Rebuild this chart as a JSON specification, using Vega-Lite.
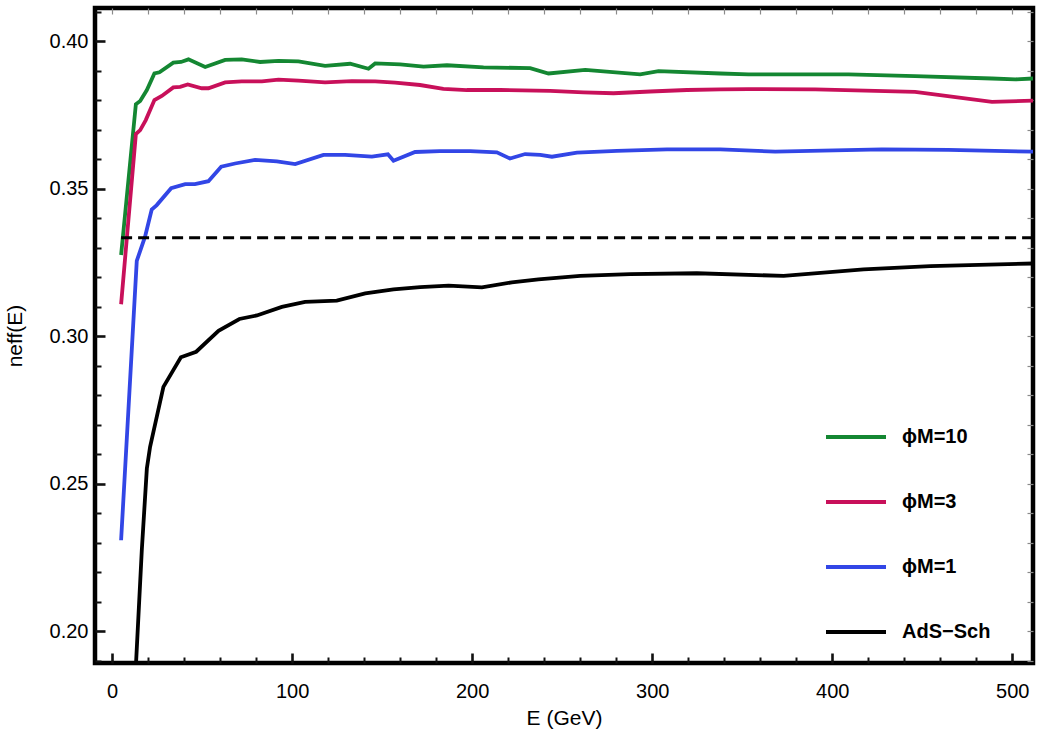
{
  "$schema": "https://vega.github.io/schema/vega-lite/v6.json",
  "width": 938,
  "height": 655,
  "autosize": {"type": "none"},
  "padding": {"left": 95, "top": 8, "right": 9, "bottom": 77},
  "background": "white",
  "config": {
    "view": {"stroke": "black", "strokeWidth": 4.5},
    "font": "Liberation Sans",
    "axis": {
      "domain": false,
      "grid": false,
      "labelColor": "black",
      "labelFont": "Liberation Sans",
      "labelFontSize": 20,
      "titleFont": "Liberation Sans",
      "titleFontSize": 21,
      "titleFontWeight": "normal",
      "titleColor": "black"
    }
  },
  "datasets": {
    "curves": [
      {"series": "ϕM=10", "E": 5, "n": 0.3275},
      {"series": "ϕM=10", "E": 13.2, "n": 0.3786},
      {"series": "ϕM=10", "E": 15.6, "n": 0.3797},
      {"series": "ϕM=10", "E": 19.3, "n": 0.3834},
      {"series": "ϕM=10", "E": 23.5, "n": 0.389},
      {"series": "ϕM=10", "E": 26.3, "n": 0.3894},
      {"series": "ϕM=10", "E": 34, "n": 0.3927},
      {"series": "ϕM=10", "E": 38.3, "n": 0.3929},
      {"series": "ϕM=10", "E": 42.4, "n": 0.3938},
      {"series": "ϕM=10", "E": 51.7, "n": 0.3912},
      {"series": "ϕM=10", "E": 62.8, "n": 0.3936},
      {"series": "ϕM=10", "E": 72, "n": 0.3938},
      {"series": "ϕM=10", "E": 82.2, "n": 0.3929},
      {"series": "ϕM=10", "E": 92.4, "n": 0.3933},
      {"series": "ϕM=10", "E": 103.5, "n": 0.3931},
      {"series": "ϕM=10", "E": 118.3, "n": 0.3916},
      {"series": "ϕM=10", "E": 132.2, "n": 0.3923},
      {"series": "ϕM=10", "E": 142.4, "n": 0.3906},
      {"series": "ϕM=10", "E": 146.1, "n": 0.3924},
      {"series": "ϕM=10", "E": 160, "n": 0.3921},
      {"series": "ϕM=10", "E": 173, "n": 0.3913},
      {"series": "ϕM=10", "E": 186, "n": 0.3918},
      {"series": "ϕM=10", "E": 206.3, "n": 0.3911},
      {"series": "ϕM=10", "E": 232.2, "n": 0.3908},
      {"series": "ϕM=10", "E": 242.4, "n": 0.389},
      {"series": "ϕM=10", "E": 262.8, "n": 0.3902},
      {"series": "ϕM=10", "E": 293.3, "n": 0.3887},
      {"series": "ϕM=10", "E": 303.5, "n": 0.3898},
      {"series": "ϕM=10", "E": 337.8, "n": 0.389},
      {"series": "ϕM=10", "E": 353.5, "n": 0.3887},
      {"series": "ϕM=10", "E": 409, "n": 0.3887},
      {"series": "ϕM=10", "E": 446, "n": 0.3881},
      {"series": "ϕM=10", "E": 488.7, "n": 0.3873},
      {"series": "ϕM=10", "E": 501.7, "n": 0.387},
      {"series": "ϕM=10", "E": 511.5, "n": 0.3873},

      {"series": "ϕM=3", "E": 5, "n": 0.3108},
      {"series": "ϕM=3", "E": 13.2, "n": 0.3685},
      {"series": "ϕM=3", "E": 15.6, "n": 0.3698},
      {"series": "ϕM=3", "E": 18.7, "n": 0.3732},
      {"series": "ϕM=3", "E": 23.5, "n": 0.38},
      {"series": "ϕM=3", "E": 27.6, "n": 0.3814},
      {"series": "ϕM=3", "E": 34, "n": 0.3843},
      {"series": "ϕM=3", "E": 37.8, "n": 0.3845},
      {"series": "ϕM=3", "E": 42, "n": 0.3853},
      {"series": "ϕM=3", "E": 49.8, "n": 0.384},
      {"series": "ϕM=3", "E": 53.5, "n": 0.384},
      {"series": "ϕM=3", "E": 62.8, "n": 0.386},
      {"series": "ϕM=3", "E": 72, "n": 0.3863},
      {"series": "ϕM=3", "E": 83.2, "n": 0.3863},
      {"series": "ϕM=3", "E": 92.4, "n": 0.3869},
      {"series": "ϕM=3", "E": 103.5, "n": 0.3866},
      {"series": "ϕM=3", "E": 118.3, "n": 0.386},
      {"series": "ϕM=3", "E": 133.2, "n": 0.3864},
      {"series": "ϕM=3", "E": 146.1, "n": 0.3863},
      {"series": "ϕM=3", "E": 157.2, "n": 0.3859},
      {"series": "ϕM=3", "E": 171, "n": 0.3851},
      {"series": "ϕM=3", "E": 184, "n": 0.3838},
      {"series": "ϕM=3", "E": 197, "n": 0.3834},
      {"series": "ϕM=3", "E": 215.6, "n": 0.3834},
      {"series": "ϕM=3", "E": 243.3, "n": 0.3831},
      {"series": "ϕM=3", "E": 261.8, "n": 0.3826},
      {"series": "ϕM=3", "E": 278.5, "n": 0.3823},
      {"series": "ϕM=3", "E": 298.9, "n": 0.3829},
      {"series": "ϕM=3", "E": 319.3, "n": 0.3834},
      {"series": "ϕM=3", "E": 337.8, "n": 0.3836},
      {"series": "ϕM=3", "E": 353.5, "n": 0.3837},
      {"series": "ϕM=3", "E": 390.6, "n": 0.3836},
      {"series": "ϕM=3", "E": 446, "n": 0.3828},
      {"series": "ϕM=3", "E": 488.7, "n": 0.3794},
      {"series": "ϕM=3", "E": 511.5, "n": 0.3798},

      {"series": "ϕM=1", "E": 5, "n": 0.2308},
      {"series": "ϕM=1", "E": 13.7, "n": 0.3255},
      {"series": "ϕM=1", "E": 18.3, "n": 0.3337},
      {"series": "ϕM=1", "E": 22, "n": 0.3429},
      {"series": "ϕM=1", "E": 24.8, "n": 0.3444},
      {"series": "ϕM=1", "E": 32.8, "n": 0.3501},
      {"series": "ϕM=1", "E": 40.6, "n": 0.3515},
      {"series": "ϕM=1", "E": 46, "n": 0.3515},
      {"series": "ϕM=1", "E": 53.5, "n": 0.3525},
      {"series": "ϕM=1", "E": 60.6, "n": 0.3574},
      {"series": "ϕM=1", "E": 68.3, "n": 0.3585},
      {"series": "ϕM=1", "E": 79.4, "n": 0.3597},
      {"series": "ϕM=1", "E": 91.5, "n": 0.3592},
      {"series": "ϕM=1", "E": 101.7, "n": 0.3583},
      {"series": "ϕM=1", "E": 117.4, "n": 0.3614},
      {"series": "ϕM=1", "E": 129.4, "n": 0.3614},
      {"series": "ϕM=1", "E": 144.3, "n": 0.3608},
      {"series": "ϕM=1", "E": 153.2, "n": 0.3616},
      {"series": "ϕM=1", "E": 156.3, "n": 0.3594},
      {"series": "ϕM=1", "E": 168.3, "n": 0.3624},
      {"series": "ϕM=1", "E": 182, "n": 0.3627},
      {"series": "ϕM=1", "E": 198.9, "n": 0.3627},
      {"series": "ϕM=1", "E": 213.7, "n": 0.3623},
      {"series": "ϕM=1", "E": 221, "n": 0.3602},
      {"series": "ϕM=1", "E": 229.4, "n": 0.3617},
      {"series": "ϕM=1", "E": 237.8, "n": 0.3614},
      {"series": "ϕM=1", "E": 244.3, "n": 0.3608},
      {"series": "ϕM=1", "E": 258.2, "n": 0.3622},
      {"series": "ϕM=1", "E": 280.4, "n": 0.3628},
      {"series": "ϕM=1", "E": 308.2, "n": 0.3633},
      {"series": "ϕM=1", "E": 337.8, "n": 0.3633},
      {"series": "ϕM=1", "E": 368.3, "n": 0.3625},
      {"series": "ϕM=1", "E": 427.6, "n": 0.3633},
      {"series": "ϕM=1", "E": 464.6, "n": 0.3631},
      {"series": "ϕM=1", "E": 511.5, "n": 0.3625},

      {"series": "AdS−Sch", "E": 5, "n": 0.09},
      {"series": "AdS−Sch", "E": 16.5, "n": 0.2275},
      {"series": "AdS−Sch", "E": 19.3, "n": 0.2551},
      {"series": "AdS−Sch", "E": 21.1, "n": 0.2625},
      {"series": "AdS−Sch", "E": 28.5, "n": 0.2828},
      {"series": "AdS−Sch", "E": 38.2, "n": 0.2928},
      {"series": "AdS−Sch", "E": 46.7, "n": 0.2947},
      {"series": "AdS−Sch", "E": 59.1, "n": 0.3018},
      {"series": "AdS−Sch", "E": 70.7, "n": 0.3058},
      {"series": "AdS−Sch", "E": 80.4, "n": 0.307},
      {"series": "AdS−Sch", "E": 94.3, "n": 0.3099},
      {"series": "AdS−Sch", "E": 107.2, "n": 0.3116},
      {"series": "AdS−Sch", "E": 124.8, "n": 0.312},
      {"series": "AdS−Sch", "E": 140.6, "n": 0.3145},
      {"series": "AdS−Sch", "E": 156.3, "n": 0.3158},
      {"series": "AdS−Sch", "E": 171.1, "n": 0.3166},
      {"series": "AdS−Sch", "E": 186.9, "n": 0.3171},
      {"series": "AdS−Sch", "E": 205.4, "n": 0.3165},
      {"series": "AdS−Sch", "E": 222, "n": 0.3182},
      {"series": "AdS−Sch", "E": 236.8, "n": 0.3192},
      {"series": "AdS−Sch", "E": 260, "n": 0.3204},
      {"series": "AdS−Sch", "E": 287.8, "n": 0.321},
      {"series": "AdS−Sch", "E": 324.8, "n": 0.3213},
      {"series": "AdS−Sch", "E": 373, "n": 0.3204},
      {"series": "AdS−Sch", "E": 417.4, "n": 0.3226},
      {"series": "AdS−Sch", "E": 454.4, "n": 0.3237},
      {"series": "AdS−Sch", "E": 511.5, "n": 0.3246}
    ],
    "ref": [{"E0": 5, "E1": 511.5, "n": 0.33333}]
  },
  "layer": [
    {
      "data": {"name": "curves"},
      "transform": [{"filter": "datum.series !== 'AdS−Sch'"}],
      "mark": {"type": "line", "strokeWidth": 3.8, "clip": true},
      "encoding": {
        "x": {
          "field": "E", "type": "quantitative",
          "scale": {"domain": [-9.5, 511.5], "nice": false, "zero": false},
          "axis": {
            "orient": "bottom", "title": "E (GeV)", "titlePadding": 6,
            "values": [0, 100, 200, 300, 400, 500], "format": "d",
            "ticks": true, "tickColor": "#111111", "tickSize": -10, "tickWidth": 2.6,
            "labelPadding": 28, "labelFlush": false, "labelOverlap": false
          }
        },
        "y": {
          "field": "n", "type": "quantitative",
          "scale": {"domain": [0.1892, 0.4112], "nice": false, "zero": false},
          "axis": {
            "orient": "left", "title": "neff(E)", "titlePadding": 24,
            "values": [0.2, 0.25, 0.3, 0.35, 0.4], "format": ".2f",
            "ticks": true, "tickColor": "#111111", "tickSize": -10, "tickWidth": 2.6,
            "labelPadding": 17, "labelFlush": false, "labelOverlap": false
          }
        },
        "color": {
          "field": "series", "type": "nominal",
          "scale": {
            "domain": ["ϕM=10", "ϕM=3", "ϕM=1", "AdS−Sch"],
            "range": ["#148732", "#c8105a", "#3246e6", "#000000"]
          },
          "legend": {
            "orient": "none",
            "legendX": 729,
            "legendY": 397,
            "title": null,
            "symbolType": "stroke",
            "symbolSize": 3600,
            "symbolStrokeWidth": 4,
            "labelFontSize": 20,
            "labelFontWeight": "bold",
            "labelFont": "Liberation Sans",
            "labelColor": "black",
            "labelOffset": 14,
            "rowPadding": 23
          }
        }
      }
    },
    {
      "data": {"name": "curves"},
      "transform": [{"filter": "datum.series === 'AdS−Sch'"}],
      "mark": {"type": "line", "strokeWidth": 3.8, "clip": true},
      "encoding": {
        "x": {
          "field": "E", "type": "quantitative",
          "axis": {
            "orient": "bottom", "title": null, "labels": false,
            "values": [20,40,60,80,120,140,160,180,220,240,260,280,320,340,360,380,420,440,460,480],
            "ticks": true, "tickColor": "#111111", "tickSize": -6, "tickWidth": 2
          }
        },
        "y": {
          "field": "n", "type": "quantitative",
          "axis": {
            "orient": "left", "title": null, "labels": false,
            "values": [0.19,0.21,0.22,0.23,0.24,0.26,0.27,0.28,0.29,0.31,0.32,0.33,0.34,0.36,0.37,0.38,0.39,0.41],
            "ticks": true, "tickColor": "#111111", "tickSize": -6, "tickWidth": 2
          }
        },
        "color": {"field": "series", "type": "nominal"}
      }
    },
    {
      "data": {"name": "ref"},
      "mark": {"type": "rule", "strokeDash": [11, 6], "strokeWidth": 2.8, "color": "black", "clip": true},
      "encoding": {
        "x": {
          "field": "E0", "type": "quantitative",
          "axis": {
            "orient": "top", "title": null, "labels": false,
            "values": [0,20,40,60,80,100,120,140,160,180,200,220,240,260,280,300,320,340,360,380,400,420,440,460,480,500],
            "ticks": true, "tickSize": -6, "tickWidth": 1.2, "tickColor": "#8a8a8a"
          }
        },
        "x2": {"field": "E1"},
        "y": {
          "field": "n", "type": "quantitative",
          "axis": {
            "orient": "right", "title": null, "labels": false,
            "values": [0.19,0.2,0.21,0.22,0.23,0.24,0.25,0.26,0.27,0.28,0.29,0.3,0.31,0.32,0.33,0.34,0.35,0.36,0.37,0.38,0.39,0.4,0.41],
            "ticks": true, "tickSize": -6, "tickWidth": 1.2, "tickColor": "#8a8a8a"
          }
        }
      }
    }
  ],
  "resolve": {"axis": {"x": "independent", "y": "independent"}}
}
